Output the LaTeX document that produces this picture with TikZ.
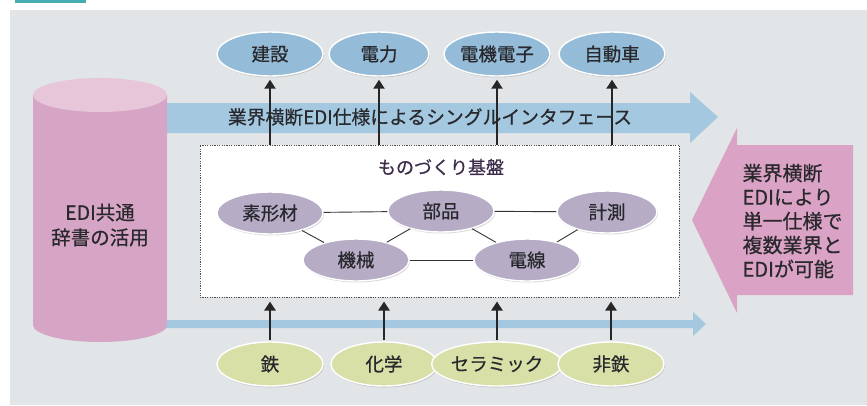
\documentclass[tikz,border=0pt]{standalone}
\usepackage{fontspec}
\setmainfont{Noto Sans CJK JP}[FakeBold=0.6]
\usetikzlibrary{shapes.geometric,arrows.meta,shadows}
\definecolor{bgpanel}{RGB}{226,229,231}
\definecolor{tealtab}{RGB}{70,172,178}
\definecolor{topblue}{RGB}{148,188,216}
\definecolor{bandblue}{RGB}{163,200,224}
\definecolor{purp}{RGB}{182,172,198}
\definecolor{greenish}{RGB}{216,224,168}
\definecolor{pinkbody}{RGB}{214,164,196}
\definecolor{pinktop}{RGB}{231,198,218}
\definecolor{pinkarrow}{RGB}{218,162,196}
\definecolor{txt}{RGB}{40,40,45}
\definecolor{darkpurp}{RGB}{62,45,74}
\tikzset{
  oval/.style={ellipse, draw=white, line width=1.4pt, minimum width=106pt, minimum height=44pt,
    inner sep=0pt, text=txt, font=\fontsize{18.5}{20}\selectfont,
    drop shadow={shadow xshift=1pt, shadow yshift=-1.5pt, opacity=0.3}},
  topoval/.style={oval, fill=topblue},
  baseoval/.style={oval, fill=purp, minimum height=42pt},
  botoval/.style={oval, fill=greenish},
  uparrow/.style={draw=black!85, line width=2.3pt, -{Triangle[width=11pt,length=9pt]}},
  link/.style={draw=black!80, line width=0.9pt}
}
\begin{document}
\begin{tikzpicture}[x=1pt,y=-1pt]
\useasboundingbox (0,0) rectangle (867,405);
\fill[white] (0,0) rectangle (867,405);
\fill[bgpanel] (10,10) rectangle (867,405);
\fill[tealtab] (15,0) rectangle (86,2.5);
% blue band arrow
\fill[bandblue] (160,103) -- (690,103) -- (690,92) -- (718,117) -- (690,143) -- (690,133) -- (160,133) -- cycle;
% thin bottom arrow
\fill[bandblue] (160,320) -- (693,320) -- (693,312) -- (706,324) -- (693,336) -- (693,328) -- (160,328) -- cycle;
% cylinder
\fill[pinkbody] (33,95) -- (33,325) arc[start angle=180, end angle=0, x radius=67, y radius=17] -- (167,95) -- cycle;
\fill[pinktop] (100,95) ellipse[x radius=67, y radius=17];
\node[text=txt, align=center, font=\fontsize{19.5}{25}\selectfont] (db) at (100,225) {EDI共通\\辞書の活用};
% band text
\node[text=txt, font=\fontsize{18.8}{20}\selectfont] (band) at (430,117) {業界横断EDI仕様によるシングルインタフェース};
% pink arrow
\fill[pinkarrow] (853,145) -- (737,145) -- (737,128) -- (692,220) -- (737,313) -- (737,295) -- (853,295) -- cycle;
\node[anchor=west, text=txt, align=left, font=\fontsize{20}{24}\selectfont] (note) at (739,221)
  {業界横断\\EDIにより\\単一仕様で\\複数業界と\\EDIが可能};
% box
\node[draw=black!70, fill=white, line width=1pt, dash pattern=on 1.2pt off 1.2pt,
  minimum width=479pt, minimum height=152pt, inner sep=0pt] (box) at (439.5,221) {};
\node[text=darkpurp, font=\fontsize{18}{20}\selectfont] (title) at (441,167) {ものづくり基盤};
% top ovals
\node[topoval] (t1) at (270,54) {建設};
\node[topoval, minimum width=100pt] (t2) at (379,54) {電力};
\node[topoval] (t3) at (497,54) {電機電子};
\node[topoval] (t4) at (612,54) {自動車};
% base ovals
\node[baseoval] (s1) at (270,213) {素形材};
\node[baseoval] (s2) at (441,211) {部品};
\node[baseoval, minimum width=100pt] (s3) at (607,212) {計測};
\node[baseoval] (s4) at (356,260) {機械};
\node[baseoval] (s5) at (527,260) {電線};
\draw[link] (s1) -- (s2);
\draw[link] (s2) -- (s3);
\draw[link] (s4) -- (s5);
\draw[link] (s1) -- (s4);
\draw[link] (s2) -- (s4);
\draw[link] (s2) -- (s5);
\draw[link] (s5) -- (s3);
% bottom ovals
\node[botoval] (b1) at (270,364) {鉄};
\node[botoval] (b2) at (384,364) {化学};
\node[botoval] (b3) at (497,364) {セラミック};
\node[botoval] (b4) at (611,364) {非鉄};
% arrows
\foreach \t in {t1,t2,t3,t4}
  \draw[uparrow, shorten >=3pt] (\t |- box.north) -- (\t.south);
\foreach \b in {b1,b2,b3,b4}
  \draw[uparrow, shorten <=1pt, shorten >=4pt] (\b.north) -- (\b |- box.south);
\end{tikzpicture}
\end{document}
